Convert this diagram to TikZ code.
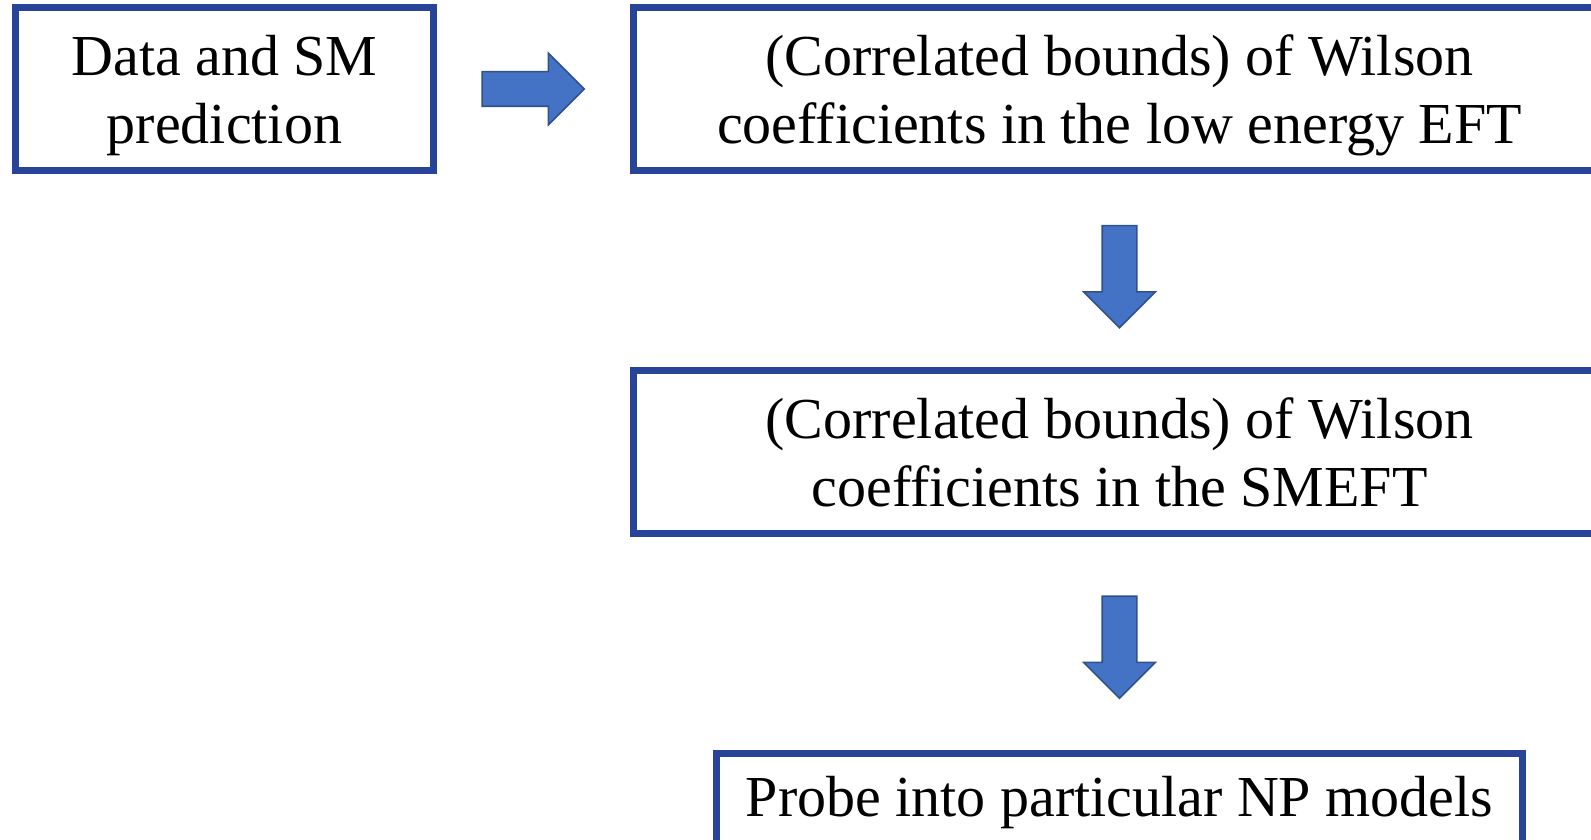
\documentclass[tikz,border=0pt]{standalone}
\usepackage{fontspec}
\setmainfont{Liberation Serif}
\usepackage{xcolor}
\usetikzlibrary{positioning,calc,shapes.arrows}
\definecolor{boxblue}{RGB}{40,68,152}
\definecolor{arrfill}{RGB}{68,114,196}
\definecolor{arrline}{RGB}{47,82,143}

\begin{document}
\begin{tikzpicture}[
  box/.style={draw=boxblue, line width=3.5pt, align=center, inner sep=0pt, minimum height=81.5pt, font=\fontsize{29}{34}\selectfont},
  toprow/.style={text depth=-0.5pt},
  fat/.style={single arrow, draw=arrline, fill=arrfill, line width=0.8pt, inner sep=0pt, inner ysep=8.25pt, single arrow head extend=9.25pt, minimum height=51pt}]
\useasboundingbox (0,0) rectangle (795.5pt,-420pt);
\clip (0,0) rectangle (795.5pt,-420pt);
\node[box, toprow, minimum width=209pt] (data) at (112.25pt,-44.5pt) {Data and SM\\prediction};
\node[box, toprow, minimum width=486pt, right=96.5pt of data] (loweft) {(Correlated bounds) of Wilson\\coefficients in the low energy EFT};
\node[box, minimum width=486pt, below=96.5pt of loweft] (smeft) {(Correlated bounds) of Wilson\\coefficients in the SMEFT};
\node[box, minimum width=403pt, minimum height=49.5pt, below=106.5pt of smeft] (probe) {Probe into particular NP models};
% block arrows between the boxes
\node[fat] (a1) at ($(data.east)!0.5!(loweft.west)+(-4.5pt,0)$) {};
\node[fat, rotate=-90] (a2) at ($(loweft.south)!0.5!(smeft.north)+(0,1.25pt)$) {};
\node[fat, rotate=-90] (a3) at ($(smeft.south)!0.5!(probe.north)+(0,2.5pt)$) {};
\end{tikzpicture}
\end{document}
